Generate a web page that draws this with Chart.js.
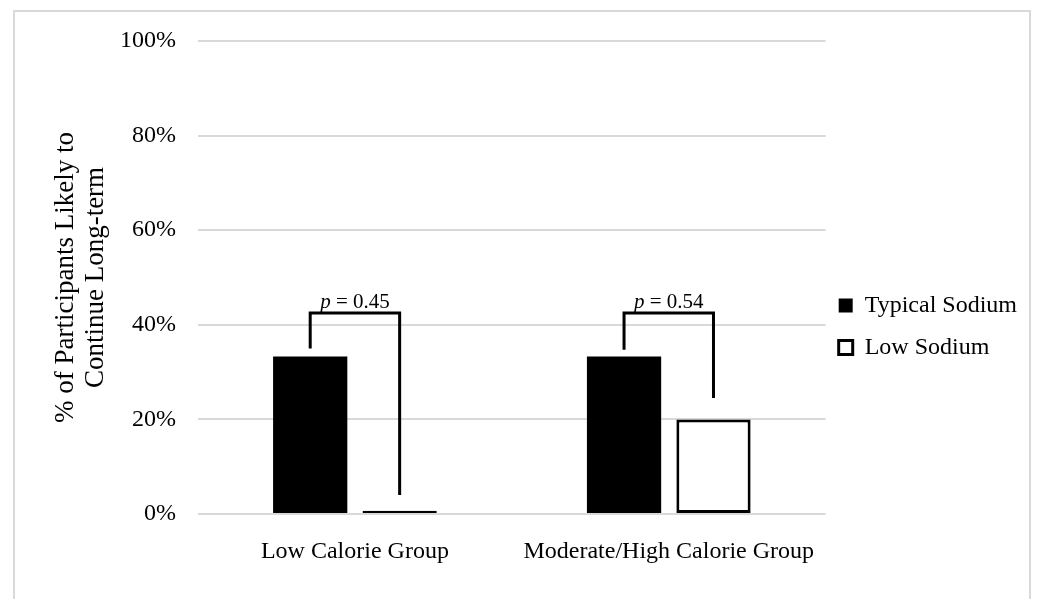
<!DOCTYPE html>
<html>
<head>
<meta charset="utf-8">
<script src="https://cdn.jsdelivr.net/npm/chart.js@4/dist/chart.umd.min.js"></script>
<style>
  html, body { margin: 0; padding: 0; background: #ffffff; }
  #frame { position: absolute; left: 13px; top: 10px; width: 1018px; height: 600px;
           border: 2px solid #d9d9d9; border-bottom: none; box-sizing: border-box; }
  #c { position: absolute; left: 0; top: 0; }
</style>
</head>
<body>
<div id="frame"></div>
<canvas id="c" width="1037" height="599"></canvas>
<script>
// ---- data ----
const categories = ['Low Calorie Group', 'Moderate/High Calorie Group'];
const seriesNames = ['Typical Sodium', 'Low Sodium'];
const typicalSodium = [33.3, 33.3];
const lowSodium = [0.7, 20];
const yTicks = [0, 20, 40, 60, 80, 100];
const yTitle = ['% of Participants Likely to', 'Continue Long-term'];
// significance brackets (values in % units)
const pValues = ['0.45', '0.54'];
const bracketTop = [42.5, 42.5];
const bracketLeftBottom = [35, 34.7];
const bracketRightBottom = [4, 24.5];

const FONT = "'Liberation Serif', 'Times New Roman', serif";

const bracketPlugin = {
  id: 'brackets',
  afterLayout(chart) {
    if (chart.legend) {
      chart.legend.left -= 5; chart.legend.right -= 5;
      chart.legend.top += 6.5; chart.legend.bottom += 6.5;
    }
  },
  afterDatasetsDraw(chart) {
    const ctx = chart.ctx;
    const y = chart.scales.y;
    const m0 = chart.getDatasetMeta(0).data;
    const m1 = chart.getDatasetMeta(1).data;
    ctx.save();
    ctx.strokeStyle = '#000';
    ctx.lineWidth = 3;
    ctx.lineJoin = 'miter';
    categories.forEach((c, i) => {
      const xl = m0[i].x, xr = m1[i].x;
      const yt = y.getPixelForValue(bracketTop[i]);
      ctx.beginPath();
      ctx.moveTo(xl, y.getPixelForValue(bracketLeftBottom[i]));
      ctx.lineTo(xl, yt);
      ctx.lineTo(xr, yt);
      ctx.lineTo(xr, y.getPixelForValue(bracketRightBottom[i]));
      ctx.stroke();
      // label
      const fs = 21;
      ctx.fillStyle = '#000';
      ctx.textBaseline = 'alphabetic';
      ctx.textAlign = 'left';
      ctx.font = 'italic ' + fs + 'px ' + FONT;
      const w1 = ctx.measureText('p').width;
      ctx.font = fs + 'px ' + FONT;
      const rest = ' = ' + pValues[i];
      const w2 = ctx.measureText(rest).width;
      const cx = (xl + xr) / 2;
      const x0 = cx - (w1 + w2) / 2;
      const ty = yt - 5;
      ctx.font = 'italic ' + fs + 'px ' + FONT;
      ctx.fillText('p', x0, ty);
      ctx.font = fs + 'px ' + FONT;
      ctx.fillText(rest, x0 + w1, ty);
    });
    ctx.restore();
  }
};

new Chart(document.getElementById('c'), {
  type: 'bar',
  data: {
    labels: categories,
    datasets: [
      { label: seriesNames[0], data: typicalSodium, backgroundColor: '#000000',
        borderColor: '#000000', borderWidth: 0 },
      { label: seriesNames[1], data: lowSodium, backgroundColor: '#ffffff',
        borderColor: '#000000', borderWidth: 3, borderSkipped: false }
    ]
  },
  options: {
    responsive: false,
    animation: false,
    devicePixelRatio: 1,
    categoryPercentage: 0.57,
    barPercentage: 0.83,
    layout: { padding: { top: 41, left: 0, right: 5, bottom: 0 } },
    plugins: {
      tooltip: { enabled: false },
      legend: {
        position: 'right',
        align: 'center',
        maxWidth: 207,
        labels: {
          boxWidth: 14, boxHeight: 14, padding: 18, color: '#000',
          font: { family: FONT, size: 24 }
        }
      }
    },
    scales: {
      x: {
        grid: { display: false },
        border: { display: false },
        ticks: { color: '#000', padding: 15, font: { family: FONT, size: 24 }, maxRotation: 0 },
        afterFit(s) { s.height = 85; }
      },
      y: {
        min: 0, max: 100,
        afterBuildTicks(s) { s.ticks = yTicks.map(v => ({ value: v })); },
        grid: { color: '#d9d9d9', lineWidth: 2, drawTicks: false },
        border: { display: false },
        ticks: { color: '#000', padding: 22, font: { family: FONT, size: 24 },
                 callback: v => v + '%' },
        title: { display: true, text: yTitle, color: '#000',
                 font: { family: FONT, size: 27, lineHeight: 1.1 },
                 padding: { top: 51, bottom: 0 } },
        afterFit(s) { s.width = 198; }
      }
    }
  },
  plugins: [bracketPlugin]
});
</script>
</body>
</html>
